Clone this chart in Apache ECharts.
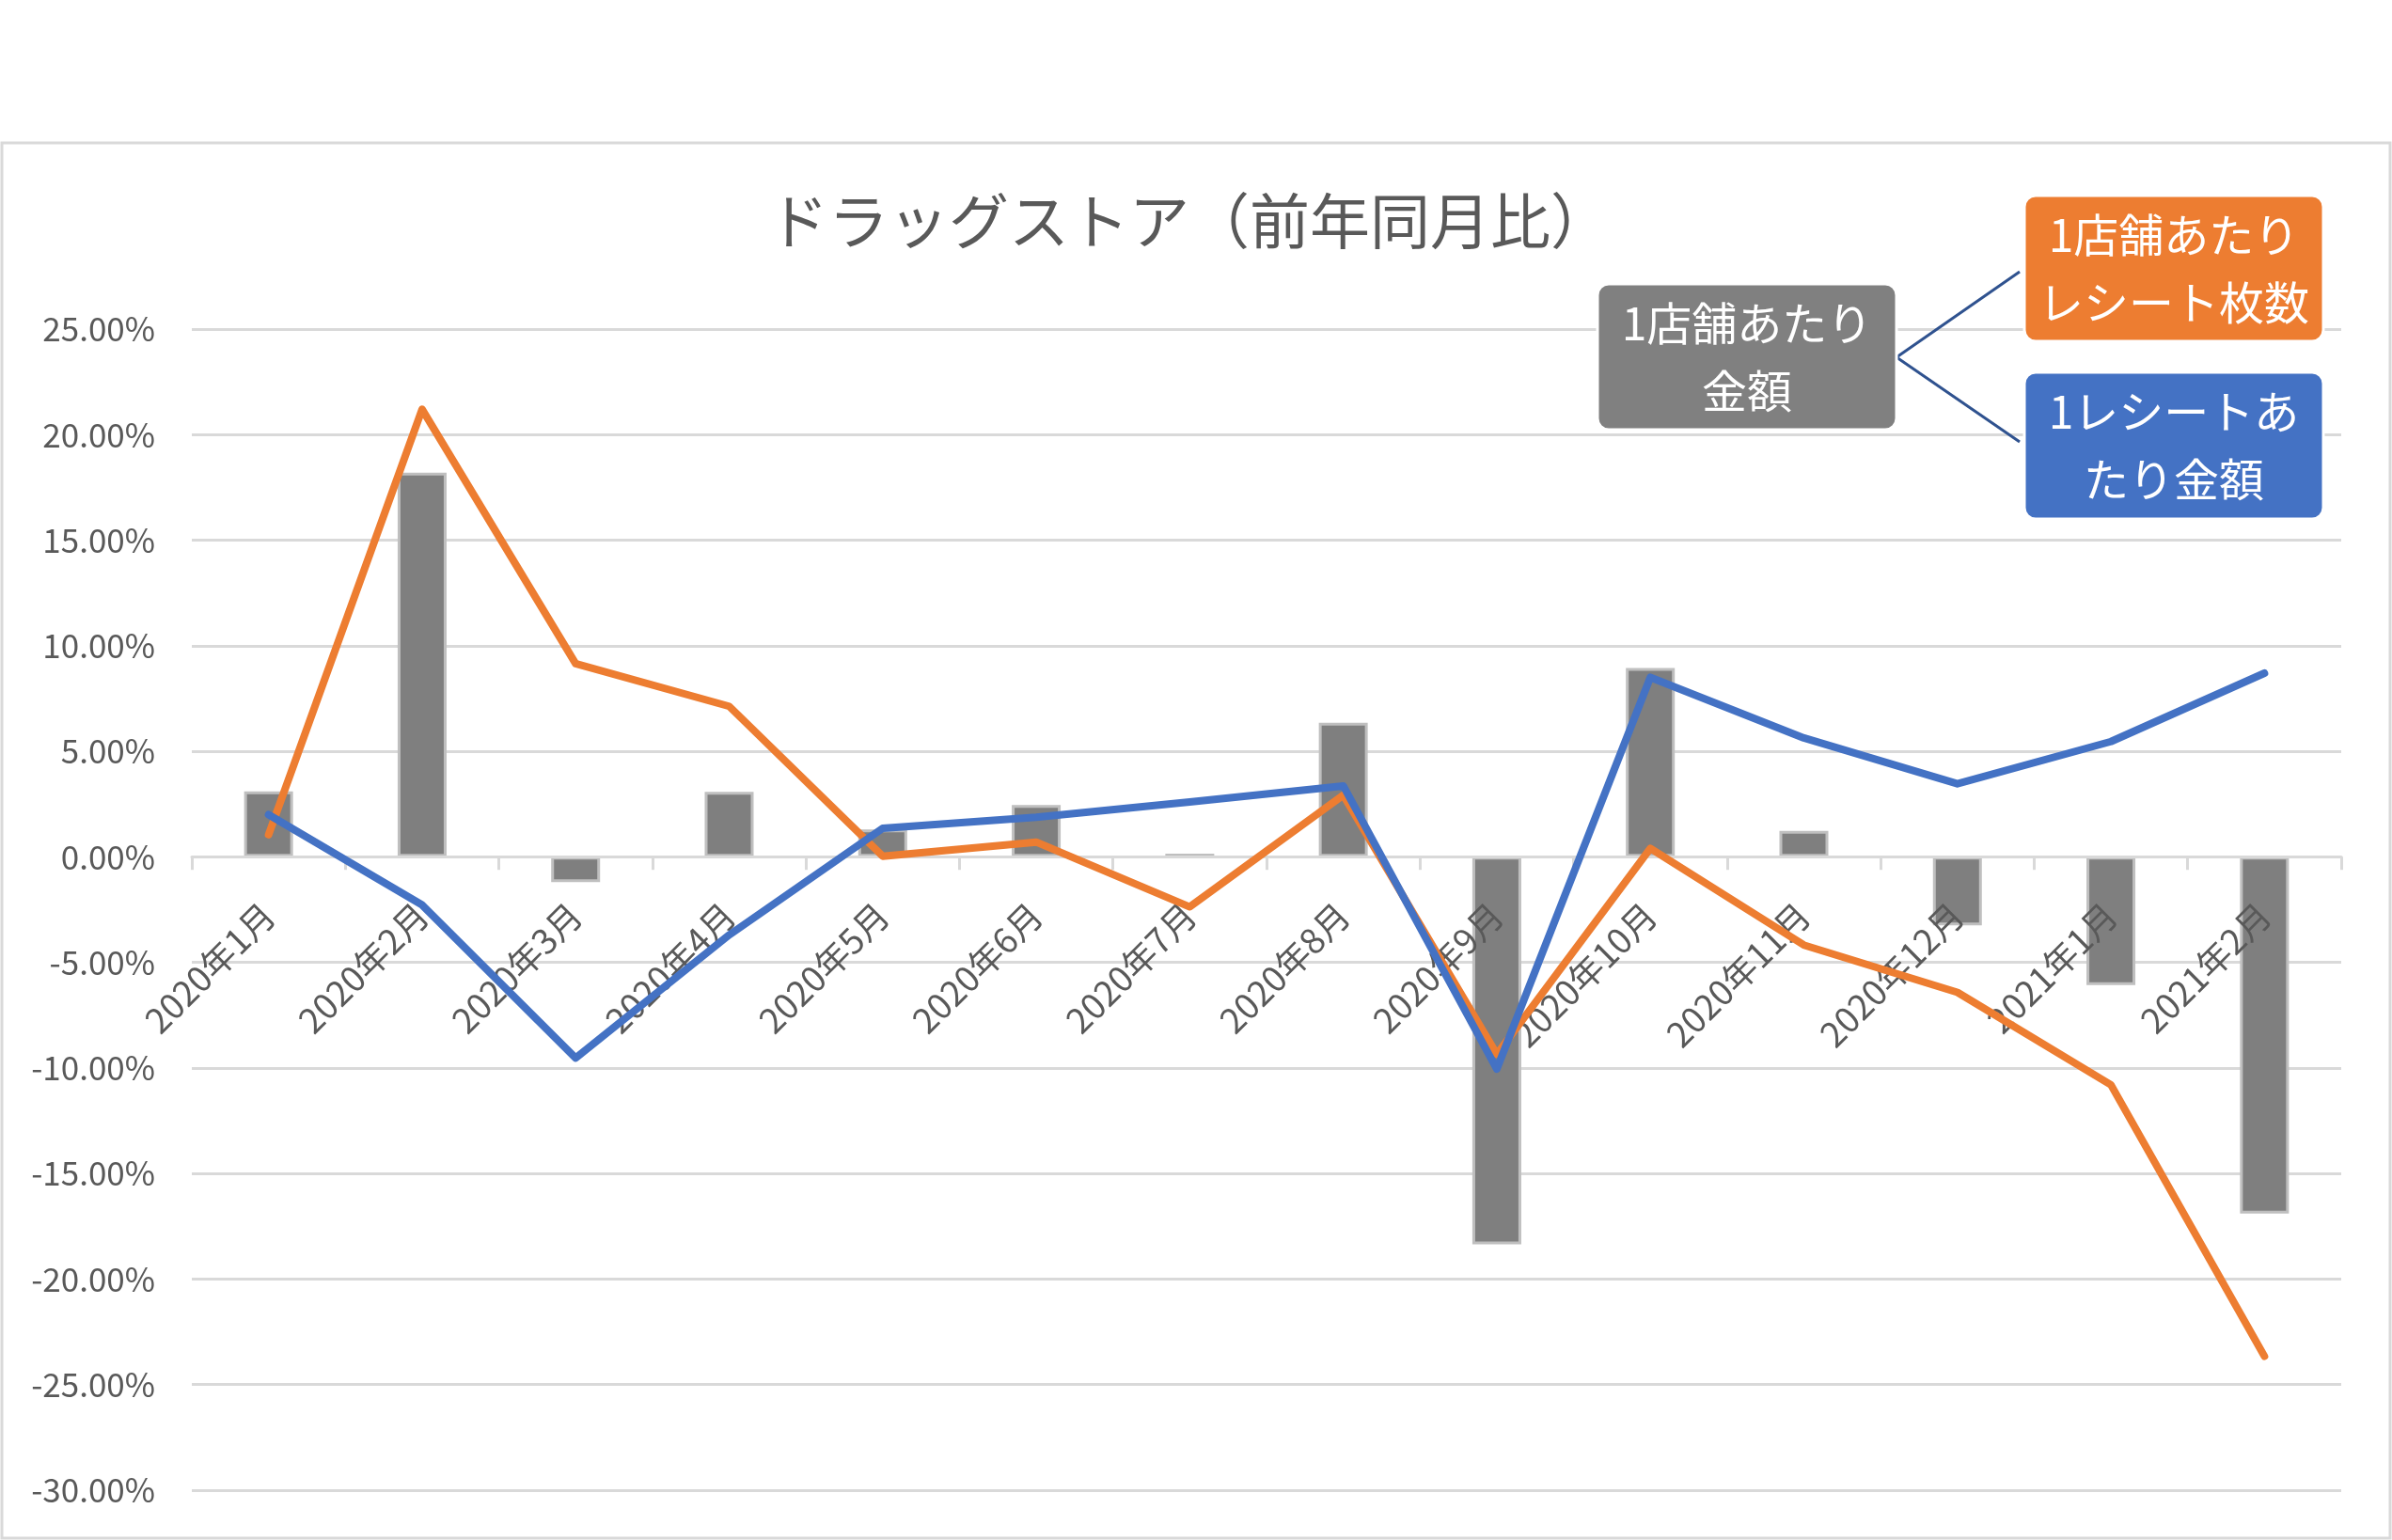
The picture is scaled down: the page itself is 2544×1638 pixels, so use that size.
<!DOCTYPE html>
<html>
<head>
<meta charset="utf-8">
<script src="https://cdn.jsdelivr.net/npm/echarts@6/dist/echarts.min.js"></script>
<style>
html,body{margin:0;padding:0;background:#fff;}
#chart{width:2544px;height:1638px;}
</style>
</head>
<body>
<div id="chart"></div>
<script>
const categories = ['2020年1月','2020年2月','2020年3月','2020年4月','2020年5月','2020年6月','2020年7月','2020年8月','2020年9月','2020年10月','2020年11月','2020年12月','2021年1月','2021年2月'];
const storeSales = [3.1, 18.2, -1.2, 3.08, 1.3, 2.45, 0.15, 6.35, -18.35, 8.95, 1.23, -3.25, -6.07, -16.9];
const receiptCount = [1.05, 21.2, 9.15, 7.13, 0.03, 0.7, -2.37, 2.92, -9.35, 0.4, -4.18, -6.42, -10.8, -23.66];
const perReceipt = [2.0, -2.28, -9.53, -3.7, 1.35, 1.88, 2.6, 3.36, -10.05, 8.5, 5.63, 3.46, 5.46, 8.7];
const yTicks = {min: -30, max: 25, interval: 5};
const titleText = 'ドラッグストア（前年同月比）';
const boxGray = '1店舗あたり\n金額';
const boxOrange = '1店舗あたり\nレシート枚数';
const boxBlue = '1レシートあ\nたり金額';

const FONT = '"Noto Sans CJK JP", "Noto Sans", sans-serif';
const chart = echarts.init(document.getElementById('chart'));

function box(x, y, w, h, color, text) {
  return {
    type: 'group',
    children: [
      {type: 'rect', shape: {x: x, y: y, width: w, height: h, r: 12},
       style: {fill: color, stroke: '#ffffff', lineWidth: 3}, z: 10},
      {type: 'text', x: x + w / 2, y: y + h / 2, z: 11,
       style: {text: text, fill: '#ffffff', font: '48px ' + FONT, align: 'center', verticalAlign: 'middle', lineHeight: 72}}
    ]
  };
}

const GRID_TOP = 350, GRID_BOTTOM_PX = 1585;

chart.setOption({
  backgroundColor: '#ffffff',
  animation: false,
  title: {
    text: titleText,
    left: 1260, top: 198, textAlign: 'center',
    textStyle: {color: '#595959', fontSize: 64, fontWeight: 'normal', fontFamily: FONT}
  },
  grid: {left: 204, right: 54, top: GRID_TOP, bottom: 1638 - GRID_BOTTOM_PX, containLabel: false, outerBoundsMode: 'none'},
  xAxis: {
    type: 'category',
    data: categories,
    boundaryGap: true,
    z: 3,
    axisLine: {onZero: true, lineStyle: {color: '#d9d9d9', width: 3}},
    axisTick: {show: true, length: 14, alignWithLabel: false, lineStyle: {color: '#d9d9d9', width: 3}},
    axisLabel: {rotate: 45, margin: -618, color: '#595959', fontSize: 37, fontFamily: FONT, interval: 0}
  },
  yAxis: {
    type: 'value',
    min: yTicks.min, max: yTicks.max, interval: yTicks.interval,
    z: 0,
    axisLine: {show: false},
    axisTick: {show: false},
    splitLine: {lineStyle: {color: '#d9d9d9', width: 3}},
    axisLabel: {margin: 39, color: '#595959', fontSize: 35, fontFamily: FONT,
      formatter: v => v.toFixed(2) + '%'}
  },
  series: [
    {name: '1店舗あたり金額', type: 'bar', data: storeSales, barWidth: 52,
     itemStyle: {color: '#7f7f7f', borderColor: '#bfbfbf', borderWidth: 3}, z: 2},
    {name: '1店舗あたりレシート枚数', type: 'line', data: receiptCount, showSymbol: false,
     lineStyle: {color: '#ed7d31', width: 8, join: 'round', cap: 'round'}, z: 4},
    {name: '1レシートあたり金額', type: 'line', data: perReceipt, showSymbol: false,
     lineStyle: {color: '#4472c4', width: 8, join: 'round', cap: 'round'}, z: 5}
  ],
  graphic: [
    {type: 'rect', shape: {x: 2, y: 152, width: 2540, height: 1484},
     style: {fill: 'none', stroke: '#d9d9d9', lineWidth: 3}, z: 1, silent: true},
    {type: 'polyline', shape: {points: [[2148, 289], [2017, 380], [2148, 470]]},
     style: {stroke: '#2f528f', lineWidth: 3, fill: 'none'}, z: 9},
    box(1699, 302, 318, 155, '#808080', boxGray),
    box(2153, 208, 318, 155, '#ed7d31', boxOrange),
    box(2153, 396, 318, 156, '#4472c4', boxBlue)
  ]
});
</script>
</body>
</html>
